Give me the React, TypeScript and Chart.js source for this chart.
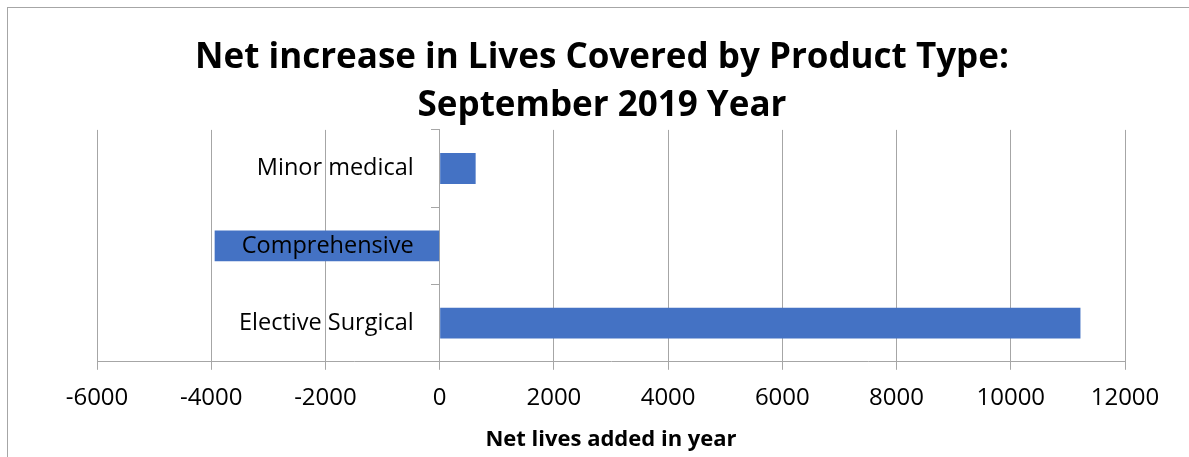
import { useEffect, useRef } from "react";
import { Chart, registerables } from "chart.js";

Chart.register(...registerables);

const categories = ["Minor medical", "Comprehensive", "Elective Surgical"];
const netLivesAdded = [630, -3940, 11220];
const titleLines = ["Net increase in Lives Covered by Product Type:", "September 2019 Year"];
const xAxisTitle = "Net lives added in year";
const xMin = -6000;
const xMax = 12000;
const xStep = 2000;

const GRID = "#a6a6a6";
const FONT = "'Open Sans', 'DejaVu Sans', sans-serif";

// Draws the category labels just left of the y axis that crosses at x = 0
const categoryLabelPlugin = {
  id: "categoryLabels",
  afterDatasetsDraw(chart: any) {
    const { ctx, scales } = chart;
    const y = scales.y;
    const x = scales.x;
    const xZero = x.getPixelForValue(0);
    ctx.save();
    ctx.font = `23.5px ${FONT}`;
    ctx.fillStyle = "#000";
    ctx.textAlign = "right";
    ctx.textBaseline = "middle";
    y.ticks.forEach((t: any, i: number) => {
      ctx.fillText(String(y.getLabelForValue(t.value)), xZero - 26, y.getPixelForTick(i));
    });
    ctx.restore();
  },
};

export default function App() {
  const ref = useRef<HTMLCanvasElement | null>(null);

  useEffect(() => {
    if (!ref.current) return;
    const chart = new Chart(ref.current, {
      type: "bar",
      data: {
        labels: categories,
        datasets: [
          {
            data: netLivesAdded,
            backgroundColor: "#4472C4",
            borderWidth: 0,
            barPercentage: 0.4,
            categoryPercentage: 1,
            xAxisID: "x",
            yAxisID: "y",
          },
        ],
      },
      plugins: [categoryLabelPlugin],
      options: {
        indexAxis: "y",
        responsive: false,
        animation: false,
        layout: { padding: { left: 30, right: 30, top: 0, bottom: 2 } },
        plugins: {
          legend: { display: false },
          tooltip: { enabled: false },
          title: {
            display: true,
            text: titleLines,
            color: "#000",
            font: { family: FONT, size: 35, weight: "bold", lineHeight: 1.37 },
            padding: { top: 26, bottom: 0 },
          },
        },
        scales: {
          x: {
            type: "linear",
            min: xMin,
            max: xMax,
            grid: { color: GRID, lineWidth: 1, tickLength: 8, drawTicks: true },
            border: { display: true, color: GRID, width: 1 },
            ticks: {
              stepSize: xStep,
              color: "#000",
              padding: 14,
              font: { family: FONT, size: 24, lineHeight: 1.2 },
              callback: (v: any) => String(v),
            },
            title: {
              display: true,
              text: xAxisTitle,
              color: "#000",
              font: { family: FONT, size: 22, weight: "bold", lineHeight: 1.2 },
              padding: { top: 0, bottom: 2 },
            },
          },
          y: {
            type: "category",
            position: { x: 0 } as any,
            z: 1,
            offset: true,
            grid: { offset: true, drawOnChartArea: false, tickLength: 8, color: GRID },
            border: { display: true, color: GRID, width: 1 },
            ticks: { display: false, autoSkip: false },
          },
          padL: {
            type: "linear",
            axis: "y",
            position: "left",
            grid: { display: false },
            border: { display: false },
            ticks: { display: false },
            afterFit: (s: any) => {
              s.width = 59;
            },
          } as any,
          padR: {
            type: "linear",
            axis: "y",
            position: "right",
            grid: { display: false },
            border: { display: false },
            ticks: { display: false },
            afterFit: (s: any) => {
              s.width = 41;
            },
          } as any,
        },
      },
    });
    return () => chart.destroy();
  }, []);

  return (
    <div
      style={{
        position: "fixed",
        left: 7,
        top: 7,
        width: 1188,
        height: 449,
        borderTop: `1px solid ${GRID}`,
        borderLeft: `1px solid ${GRID}`,
        background: "#fff",
      }}
    >
      <canvas ref={ref} width={1188} height={449} style={{ display: "block" }} />
    </div>
  );
}
